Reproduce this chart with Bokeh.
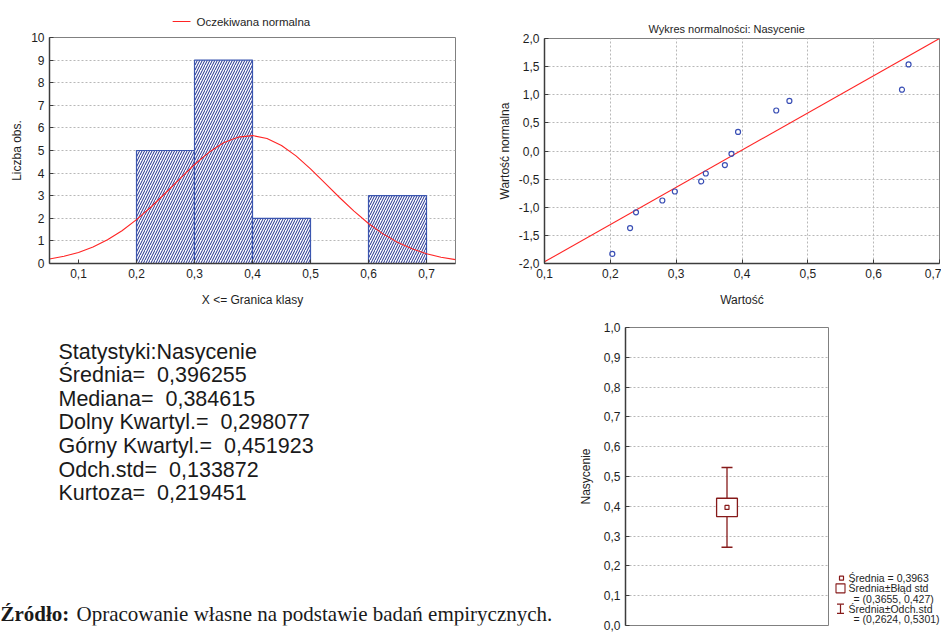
from bokeh.plotting import figure
from bokeh.layouts import column, row
from bokeh.models import CustomJSTickFormatter, FixedTicker, Range1d
from bokeh.core.properties import value
from bokeh.embed import file_html
from bokeh.resources import INLINE

FONT = "Liberation Sans"
SERIF = "Liberation Serif"
TXT = "#1e1e1e"
NB = "\u00a0"

# ---------------- data ----------------
# histogram (class upper bounds) and counts
bin_left = [0.2, 0.3, 0.4, 0.5, 0.6]
bin_right = [0.3, 0.4, 0.5, 0.6, 0.7]
counts = [5, 9, 2, 0, 3]
hist_xticks = [0.1, 0.2, 0.3, 0.4, 0.5, 0.6, 0.7]
hist_yticks = [0, 1, 2, 3, 4, 5, 6, 7, 8, 9, 10]
hist_legend = "Oczekiwana normalna"

# expected normal curve
curve_x = [0.05, 0.075, 0.1, 0.125, 0.15, 0.175, 0.2, 0.225, 0.25, 0.275, 0.3,
           0.325, 0.35, 0.375, 0.4, 0.425, 0.45, 0.475, 0.5, 0.525, 0.55, 0.575,
           0.6, 0.625, 0.65, 0.675, 0.7, 0.725, 0.75]
curve_y = [0.20, 0.32, 0.49, 0.73, 1.05, 1.45, 1.94, 2.50, 3.12, 3.76, 4.38,
           4.92, 5.34, 5.59, 5.66, 5.53, 5.22, 4.76, 4.19, 3.56, 2.92, 2.32,
           1.77, 1.31, 0.94, 0.65, 0.43, 0.28, 0.17]

# normal probability plot
qq_x = [0.203, 0.230, 0.239, 0.279, 0.298, 0.338, 0.345, 0.374, 0.384, 0.394,
        0.452, 0.472, 0.643, 0.653]
qq_y = [-1.83, -1.37, -1.09, -0.88, -0.72, -0.54, -0.40, -0.25, -0.05, 0.34,
        0.72, 0.89, 1.09, 1.54]
qq_line_x = [0.1, 0.7]
qq_line_y = [-1.97, 2.0]
qq_xticks = [0.1, 0.2, 0.3, 0.4, 0.5, 0.6, 0.7]
qq_yticks = [-2.0, -1.5, -1.0, -0.5, 0.0, 0.5, 1.0, 1.5, 2.0]

# mean / SE / SD plot
box_cat = [2]
box_mean = [0.3963]
box_se_lo = [0.3655]
box_se_hi = [0.427]
box_sd_lo = [0.2624]
box_sd_hi = [0.5301]
box_yticks = [0.0, 0.1, 0.2, 0.3, 0.4, 0.5, 0.6, 0.7, 0.8, 0.9, 1.0]
box_legend = ["Średnia = 0,3963", "Średnia±Błąd std", "= (0,3655, 0,427)",
              "Średnia±Odch.std", "= (0,2624, 0,5301)"]

stats_lines = ["Statystyki:Nasycenie", "Średnia=" + NB + " 0,396255",
               "Mediana=" + NB + " 0,384615", "Dolny Kwartyl.=" + NB + " 0,298077",
               "Górny Kwartyl.=" + NB + " 0,451923", "Odch.std=" + NB + " 0,133872",
               "Kurtoza=" + NB + " 0,219451"]
source_bold = "Źródło:"
source_rest = "Opracowanie własne na podstawie badań empirycznych."

fmt1 = CustomJSTickFormatter(code="return tick.toFixed(1).replace('.', ',');")
RED = "#ff2424"
DR = "#861a1a"


def style(p, xticks, yticks, xgrid=True):
    p.background_fill_color = "white"
    p.border_fill_color = "white"
    p.outline_line_color = "#808080"
    p.outline_line_width = 1
    if xticks is not None:
        p.xaxis.ticker = FixedTicker(ticks=xticks)
    p.yaxis.ticker = FixedTicker(ticks=yticks)
    for ax in p.axis:
        ax.axis_line_color = "#3c3c3c"
        ax.axis_line_width = 1.5
        ax.major_tick_in = 4
        ax.major_tick_out = 0
        ax.minor_tick_line_color = None
        ax.major_tick_line_color = "#3c3c3c"
        ax.major_label_text_font = FONT
        ax.major_label_text_font_size = "12px"
        ax.major_label_text_color = TXT
        ax.axis_label_text_font = FONT
        ax.axis_label_text_font_size = "12px"
        ax.axis_label_text_font_style = "normal"
        ax.axis_label_text_color = TXT
        ax.major_label_standoff = 5
    p.xaxis.axis_label_standoff = 12
    p.yaxis.axis_label_standoff = 8
    p.ygrid.grid_line_color = "#b8b8b8"
    p.ygrid.grid_line_dash = "2 2"
    if xgrid:
        p.xgrid.grid_line_color = "#b8b8b8"
        p.xgrid.grid_line_dash = "2 2"
    else:
        p.xgrid.visible = False


def blank(w, h):
    f = figure(width=w, height=h, x_range=Range1d(0, w), y_range=Range1d(0, h),
               x_axis_type=None, y_axis_type=None,
               output_backend="svg", toolbar_location=None,
               min_border_left=0, min_border_right=0, min_border_top=0, min_border_bottom=0)
    f.grid.visible = False
    f.outline_line_color = None
    f.background_fill_color = "white"
    f.border_fill_color = "white"
    return f


# ---------------- histogram legend strip ----------------
hl = blank(478, 30)
hl.segment(x0=[145], y0=[9], x1=[166], y1=[9], line_color=RED, line_width=1.1)
hl.text(x=[173], y=[9], text=[hist_legend], text_font=value(FONT), text_font_size="11.5px",
        text_baseline="middle", text_color=TXT)

# ---------------- histogram ----------------
hist = figure(width=478, height=282, x_range=Range1d(0.05, 0.75), y_range=Range1d(0, 10),
              output_backend="svg", toolbar_location=None,
              min_border_left=49, min_border_right=23, min_border_top=7, min_border_bottom=49)
style(hist, hist_xticks, hist_yticks, xgrid=False)
hist.xaxis.formatter = fmt1
hist.xaxis.axis_label = "X <= Granica klasy"
hist.yaxis.axis_label = "Liczba obs."
hist.yaxis.axis_label_standoff = 4
hist.quad(left=bin_left, right=bin_right, bottom=0, top=counts, fill_color="white",
          line_color="#3b56b0", line_width=1.2, hatch_pattern="/", hatch_color="#1c2c8c",
          hatch_scale=5, hatch_weight=1)
hist.line(curve_x, curve_y, line_color=RED, line_width=1.1)

# ---------------- normal probability plot ----------------
qq = figure(width=463, height=312, x_range=Range1d(0.1, 0.7), y_range=Range1d(-2, 2),
            output_backend="svg", toolbar_location=None, title="Wykres normalności: Nasycenie",
            min_border_left=66, min_border_right=2, min_border_top=38, min_border_bottom=49)
style(qq, qq_xticks, qq_yticks, xgrid=True)
qq.xaxis.formatter = fmt1
qq.yaxis.formatter = fmt1
qq.xaxis.axis_label = "Wartość"
qq.yaxis.axis_label = "Wartość normalna"
qq.yaxis.axis_label_standoff = 4
qq.title.align = "left"
qq.title.offset = 104
qq.title.standoff = 8
qq.title.text_font = FONT
qq.title.text_font_size = "11px"
qq.title.text_font_style = "normal"
qq.title.text_color = TXT
qq.line(qq_line_x, qq_line_y, line_color=RED, line_width=1.1)
qq.scatter(qq_x, qq_y, marker="circle", size=5, fill_color=None, line_color="#3a4fb5",
           line_width=1.2)

# ---------------- stats text ----------------
tf = blank(575, 321)
line_top, line_step = 295, 25.4
tf.text(x=[58] * len(stats_lines), y=[line_top - i * line_step for i in range(len(stats_lines))],
        text=stats_lines, text_font=value(FONT), text_font_size="21.5px",
        text_baseline="middle", text_color="#1a1a1a")
tf.text(x=[0], y=[12], text=[source_bold], text_font=value(SERIF), text_font_size="21px",
        text_font_style="bold", text_baseline="alphabetic", text_color="#1a1a1a")
tf.text(x=[76], y=[12], text=[source_rest], text_font=value(SERIF), text_font_size="21px",
        text_baseline="alphabetic", text_color="#1a1a1a")

# ---------------- mean / SE / SD plot ----------------
bx = figure(width=255, height=321, x_range=Range1d(0, 4), y_range=Range1d(0, 1),
            x_axis_type=None, output_backend="svg", toolbar_location=None,
            min_border_left=48, min_border_right=2, min_border_top=15, min_border_bottom=8)
style(bx, None, box_yticks, xgrid=False)
bx.yaxis.formatter = fmt1
bx.yaxis.axis_label = "Nasycenie"
bx.segment(x0=box_cat, y0=box_sd_lo, x1=box_cat, y1=box_sd_hi, line_color=DR, line_width=1.3)
bx.scatter(box_cat * 2, box_sd_lo + box_sd_hi, marker="dash", size=11, line_color=DR,
           line_width=1.5)
bx.vbar(x=box_cat, width=0.41, bottom=box_se_lo, top=box_se_hi, fill_color="white",
        line_color=DR, line_width=1.3)
bx.scatter(box_cat, box_mean, marker="square", size=4, fill_color="white",
           line_color=DR, line_width=1.2)

# ---------------- mean plot legend strip ----------------
bl = blank(111, 321)
bl.scatter([11], [51], marker="square", size=4, fill_color="white", line_color=DR,
           line_width=1.2)
bl.scatter([10], [40], marker="square", size=9, fill_color="white", line_color=DR,
           line_width=1.1)
bl.segment(x0=[10], y0=[13], x1=[10], y1=[23], line_color=DR, line_width=1.2)
bl.scatter([10, 10], [13, 23], marker="dash", size=7, line_color=DR, line_width=1.2)
bl.text(x=[18, 18, 23, 18, 23], y=[51, 40, 29, 18, 7], text=box_legend,
        text_font=value(FONT), text_font_size="10.5px", text_baseline="middle",
        text_color=TXT)

layout = column(row(column(hl, hist), qq), row(tf, bx, bl))
open("out.html", "w").write(file_html(layout, INLINE))
